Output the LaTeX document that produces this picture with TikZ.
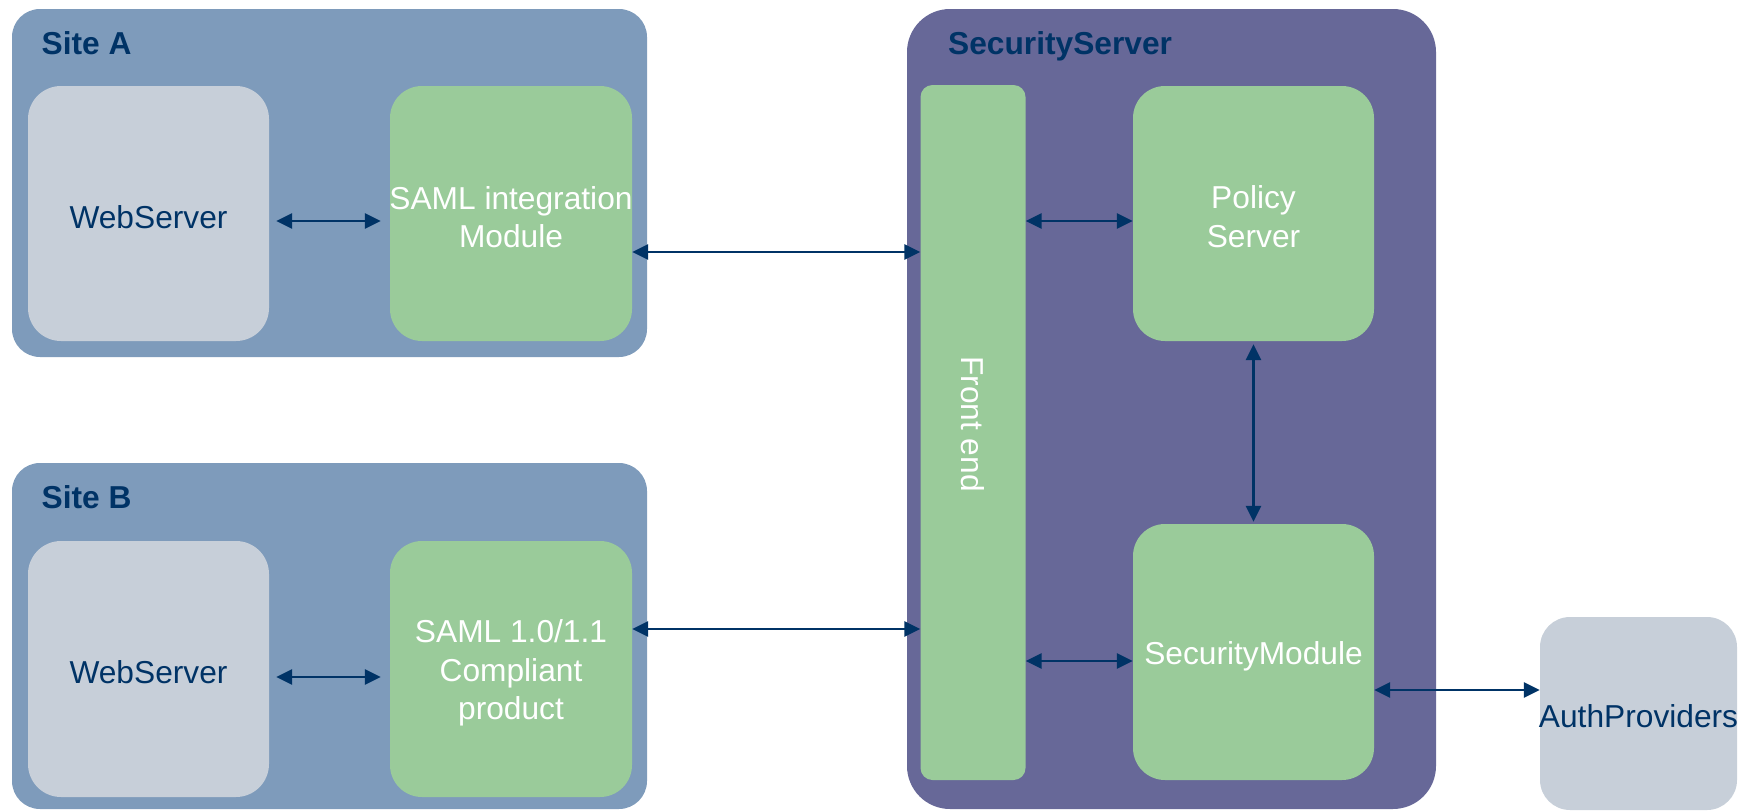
\documentclass[tikz,border=0pt]{standalone}
\usepackage{fontspec}
\setmainfont{Liberation Sans}
\usetikzlibrary{arrows.meta}
\definecolor{siteblue}{RGB}{126,155,187}
\definecolor{webgray}{RGB}{199,207,217}
\definecolor{modgreen}{RGB}{154,203,154}
\definecolor{secpurple}{RGB}{103,104,152}
\definecolor{navy}{RGB}{0,51,102}
\begin{document}
\begin{tikzpicture}[x=1pt,y=-1pt,
  blk/.style={rectangle, inner sep=0pt, draw=none},
  sitebox/.style={blk, fill=siteblue, rounded corners=28pt},
  webbox/.style={blk, fill=webgray, rounded corners=33pt},
  modbox/.style={blk, fill=modgreen, rounded corners=32pt},
  txt/.style={inner sep=0pt, align=center, font=\fontsize{31.7}{38.5}\selectfont},
  ttl/.style={inner sep=0pt, anchor=base west, text=navy, font=\fontsize{31.7}{38}\selectfont\bfseries},
  arr/.style={{Triangle[length=16pt,width=15pt]}-{Triangle[length=16pt,width=15pt]}, line width=2.8pt, draw=navy}
]
\useasboundingbox (0,0) rectangle (1758,811);

% containers
\node[sitebox, minimum width=635pt, minimum height=348pt] (siteA) at (329.5,183) {};
\node[sitebox, minimum width=635pt, minimum height=346pt] (siteB) at (329.5,636) {};
\node[blk, fill=secpurple, rounded corners=43pt, minimum width=529pt, minimum height=800pt] (secsrv) at (1171.5,409) {};

% titles
\node[ttl] (siteAt) at (41.5,54) {Site A};
\node[ttl] (siteBt) at (41.5,508) {Site B};
\node[ttl] (secsrvt) at (948,54) {SecurityServer};

% inner boxes
\node[webbox, minimum width=241pt, minimum height=255pt] (webA) at (148.5,213.5) {};
\node[modbox, minimum width=242pt, minimum height=255pt] (samlA) at (511,213.5) {};
\node[webbox, minimum width=241pt, minimum height=256pt] (webB) at (148.5,669) {};
\node[modbox, minimum width=242pt, minimum height=256pt] (samlB) at (511,669) {};
\node[modbox, rounded corners=12pt, minimum width=105pt, minimum height=695pt] (fe) at (973,432.5) {};
\node[modbox, minimum width=241pt, minimum height=255pt] (policy) at (1253.5,213.5) {};
\node[modbox, minimum width=241pt, minimum height=256pt] (secmod) at (1253.5,652) {};
\node[webbox, rounded corners=30pt, minimum width=197pt, minimum height=193pt] (auth) at (1638.5,713.5) {};

% texts
\node[txt, text=navy] (webAt) at ([yshift=-3.5pt]webA.center) {WebServer};
\node[txt, text=white] (samlAt) at ([yshift=-3.5pt]samlA.center) {SAML integration\\Module};
\node[txt, text=navy] (webBt) at ([yshift=-3.5pt]webB.center) {WebServer};
\node[txt, text=white] (samlBt) at ([yshift=-4pt]samlB.center) {SAML 1.0/1.1\\Compliant\\product};
\node[txt, text=white, rotate=-90] (fet) at (973,424) {Front end};
\node[txt, text=white] (policyt) at ([yshift=-3pt]policy.center) {Policy\\Server};
\node[txt, text=white] (secmodt) at ([yshift=-4pt]secmod.center) {SecurityModule};
\node[txt, text=navy] (autht) at ([yshift=-3pt]auth.center) {AuthProviders};

% connectors
\draw[arr, shorten <=7pt, shorten >=9pt] (webA.east |- 0,221) -- (samlA.west |- 0,221);
\draw[arr] (samlA.east |- 0,252) -- (fe.west |- 0,252);
\draw[arr] (fe.east |- 0,221) -- (policy.west |- 0,221);
\draw[arr, shorten <=3pt, shorten >=2pt] (policy.south) -- (secmod.north);
\draw[arr, shorten <=7pt, shorten >=9pt] (webB.east |- 0,677) -- (samlB.west |- 0,677);
\draw[arr] (samlB.east |- 0,629) -- (fe.west |- 0,629);
\draw[arr] (fe.east |- 0,661) -- (secmod.west |- 0,661);
\draw[arr] (secmod.east |- 0,690) -- (auth.west |- 0,690);
\end{tikzpicture}
\end{document}
